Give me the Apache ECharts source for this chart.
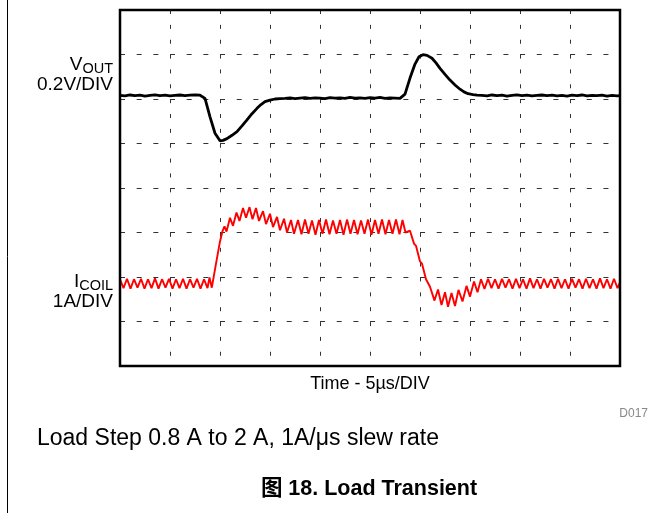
<!DOCTYPE html>
<html>
<head>
<meta charset="utf-8">
<script src="https://cdn.jsdelivr.net/npm/echarts@6/dist/echarts.min.js"></script>
<style>
html,body{margin:0;padding:0;background:#fff;}
#chart{width:671px;height:513px;}
</style>
</head>
<body>
<div id="chart"></div>
<script>
// Time axis (µs), 5 µs/div, 10 divisions
var xTicks = [0, 5, 10, 15, 20, 25, 30, 35, 40, 45, 50];

// VOUT deviation (mV), 0.2 V/div
var voutTime = [0,0.5,1,1.5,2,2.5,3,3.5,4,4.5,5,5.5,6,6.5,7,7.5,8.0,
  8.5,9.0,9.5,10.0,10.3,10.7,11.2,11.7,12.2,12.7,13.2,13.7,14.1,14.5,15.0,15.5,16,
  16.5,17,17.5,18,18.5,19,19.5,20,20.5,21,21.5,22,22.5,23,23.5,24,24.5,25,25.5,26,26.5,27,27.5,28,28.2,
  28.5,29.0,29.5,29.9,30.3,30.7,31.2,31.6,32.0,32.5,33.0,33.5,34.0,34.4,34.8,35.3,35.7,36.2,
  36.7,37.2,37.7,38.2,38.7,39.2,39.7,40.2,40.7,41.2,41.7,42.2,42.7,43.2,43.7,44.2,44.7,45.2,45.7,46.2,46.7,47.2,47.7,48.2,48.7,49.2,49.7,50];
var voutMv = [16,14,18,15,17,13,16,19,15,17,14,16,18,15,17,19,17,
  3,-80,-154,-188,-186,-178,-163,-147,-121,-94,-66,-42,-25,-12,-5,0,2,
  3,5,2,4,6,3,5,4,2,6,4,5,3,7,4,5,3,6,4,7,3,5,4,3,5,
  22,94,157,190,199,196,183,162,138,111,85,63,44,32,24,20,17,16,
  14,18,15,17,13,16,19,15,17,14,16,18,15,17,14,16,13,17,15,18,14,16,15,17,13,16,14,15];

// ICOIL (A), 1 A/div
var icoilTime = [0.00,0.35,0.70,1.05,1.40,1.75,2.10,2.45,2.80,3.15,3.50,3.85,4.20,4.55,4.90,5.25,5.60,5.95,6.30,6.65,7.00,7.35,7.70,8.05,8.40,8.75,8.95,9.18,
  9.60,10.00,10.25,10.45,10.65,11.00,11.30,11.65,11.95,12.30,12.60,12.95,13.25,13.60,13.90,14.30,14.60,15.00,15.30,15.70,16.00,16.40,16.70,17.10,17.40,
  17.80,18.15,18.50,18.85,19.20,19.55,19.90,20.25,20.60,20.95,21.30,21.65,22.00,22.35,22.70,23.05,23.40,23.75,24.10,24.45,24.80,25.15,25.50,25.85,26.20,26.55,26.90,27.25,27.60,27.95,28.25,28.55,
  29.00,29.40,29.60,30.00,30.20,30.60,31.00,
  31.45,31.80,32.15,32.50,32.80,33.15,33.50,33.85,34.25,34.65,35.00,35.40,35.75,36.10,36.45,
  36.80,37.15,37.50,37.85,38.20,38.55,38.90,39.25,39.60,39.95,40.30,40.65,41.00,41.35,41.70,42.05,42.40,42.75,43.10,43.45,43.80,44.15,44.50,44.85,45.20,45.55,45.90,46.25,46.60,46.95,47.30,47.65,48.00,48.35,48.70,49.05,49.40,49.75,50.00];
var icoilAmp = [0.95,0.75,0.96,0.74,0.95,0.76,0.96,0.74,0.95,0.75,0.97,0.74,0.95,0.76,0.96,0.74,0.95,0.75,0.96,0.74,0.95,0.76,0.96,0.74,0.95,0.75,0.99,0.76,
  1.30,1.80,2.03,2.14,2.02,2.33,2.15,2.45,2.26,2.55,2.33,2.57,2.30,2.55,2.26,2.48,2.19,2.42,2.12,2.35,2.05,2.31,2.00,2.28,1.97,
  2.28,1.96,2.29,1.97,2.27,1.95,2.28,1.97,2.29,1.96,2.27,1.97,2.28,1.95,2.29,1.97,2.28,1.96,2.27,1.97,2.29,1.95,2.28,1.97,2.29,1.96,2.28,1.97,2.29,1.96,2.28,2.00,
  2.04,1.75,1.70,1.35,1.30,0.95,0.78,
  0.47,0.72,0.37,0.66,0.33,0.64,0.35,0.71,0.45,0.80,0.56,0.90,0.66,0.95,0.73,
  0.96,0.75,0.95,0.74,0.96,0.76,0.95,0.74,0.96,0.75,0.95,0.74,0.97,0.75,0.95,0.74,0.96,0.76,0.95,0.74,0.96,0.75,0.95,0.74,0.96,0.76,0.95,0.74,0.96,0.75,0.95,0.74,0.97,0.75,0.95,0.74,0.96,0.75,0.88];

var labels = {
  vMain: 'V', vSub: 'OUT', vScale: '0.2V/DIV',
  iMain: 'I', iSub: 'COIL', iScale: '1A/DIV',
  xName: 'Time - 5µs/DIV',
  code: 'D017',
  note: 'Load Step 0.8 A to 2 A, 1A/μs slew rate',
  caption: '图 18. Load Transient'
};

function zip(a, b) { return a.map(function (v, i) { return [v, b[i]]; }); }

var FONT = '"Liberation Sans", Arial, "Noto Sans CJK SC", sans-serif';
var chart = echarts.init(document.getElementById('chart'), null, {renderer: 'canvas'});
var richSub = {
  m: {fontSize: 19, fontFamily: FONT, verticalAlign: 'bottom', lineHeight: 20},
  s: {fontSize: 14.5, fontFamily: FONT, verticalAlign: 'bottom', lineHeight: 16, padding: [0, 0, -2, 0]}
};
var option = {
  animation: false,
  backgroundColor: '#fff',
  grid: {left: 120, top: 10, width: 500, height: 356, show: true, borderColor: '#000', borderWidth: 2.5, backgroundColor: 'transparent', z: 10},
  xAxis: {
    type: 'value', min: xTicks[0], max: xTicks[xTicks.length - 1], interval: 5,
    axisLine: {show: false}, axisTick: {show: false}, axisLabel: {show: false},
    splitLine: {show: true, lineStyle: {color: '#333', width: 1, type: [4, 10.86]}}
  },
  yAxis: [{
    type: 'value', min: -1200, max: 400, interval: 200,
    axisLine: {show: false}, axisTick: {show: false}, axisLabel: {show: false},
    splitLine: {show: true, lineStyle: {color: '#333', width: 1, type: [5, 11.67]}}
  }, {
    type: 'value', min: -1, max: 7, interval: 1,
    axisLine: {show: false}, axisTick: {show: false}, axisLabel: {show: false},
    splitLine: {show: false}
  }],
  series: [{
    type: 'line', name: 'VOUT', yAxisIndex: 0, data: zip(voutTime, voutMv),
    showSymbol: false, lineStyle: {color: '#000', width: 2.8}, z: 5
  }, {
    type: 'line', name: 'ICOIL', yAxisIndex: 1, data: zip(icoilTime, icoilAmp),
    showSymbol: false, lineStyle: {color: '#ff0000', width: 1.9}, z: 4
  }],
  graphic: [
    {type: 'line', shape: {x1: 7.5, y1: 0, x2: 7.5, y2: 513}, style: {stroke: '#000', lineWidth: 1}},
    {type: 'text', x: 113, y: 74, style: {text: '{m|' + labels.vMain + '}{s|' + labels.vSub + '}', align: 'right', verticalAlign: 'bottom', font: '19px ' + FONT, rich: richSub}},
    {type: 'text', x: 113, y: 85, style: {text: labels.vScale, align: 'right', verticalAlign: 'middle', font: '19px ' + FONT, fill: '#000'}},
    {type: 'text', x: 113, y: 291, style: {text: '{m|' + labels.iMain + '}{s|' + labels.iSub + '}', align: 'right', verticalAlign: 'bottom', font: '19px ' + FONT, rich: richSub}},
    {type: 'text', x: 113, y: 302, style: {text: labels.iScale, align: 'right', verticalAlign: 'middle', font: '19px ' + FONT, fill: '#000'}},
    {type: 'text', x: 370, y: 384, style: {text: labels.xName, align: 'center', verticalAlign: 'middle', font: '18px ' + FONT, fill: '#000'}},
    {type: 'text', x: 648, y: 414, style: {text: labels.code, align: 'right', verticalAlign: 'middle', font: '12px ' + FONT, fill: '#888'}},
    {type: 'text', x: 37, y: 439, style: {text: labels.note, align: 'left', verticalAlign: 'middle', font: '23px ' + FONT, fill: '#000'}},
    {type: 'text', x: 369, y: 489, style: {text: labels.caption, align: 'center', verticalAlign: 'middle', font: 'bold 21.5px ' + FONT, fill: '#000'}}
  ]
};
chart.setOption(option);
</script>
</body>
</html>
